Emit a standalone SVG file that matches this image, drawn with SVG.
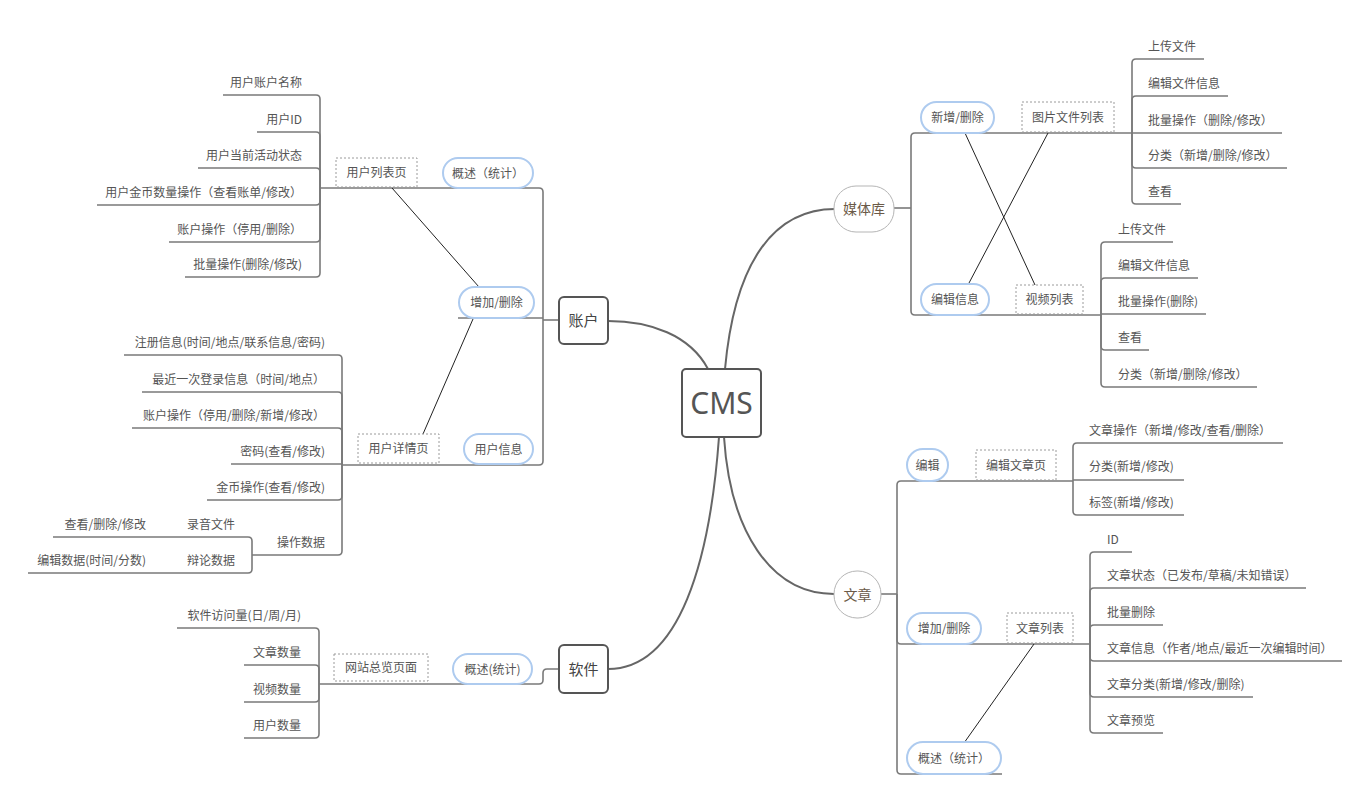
<svg xmlns="http://www.w3.org/2000/svg" width="1368" height="802" viewBox="0 0 1368 802">
<style>
.bg{fill:#fff}
.main{fill:none;stroke:#666;stroke-width:2}
.ln{fill:none;stroke:#7a7a7a;stroke-width:1.6}
.rel{fill:none;stroke:#222;stroke-width:1}
.t{font-family:"Noto Sans CJK SC","Microsoft YaHei",sans-serif;font-size:12px;fill:#555}
.e{text-anchor:end}
.c{text-anchor:middle}
.box{fill:#fff;stroke:#555;stroke-width:2}
.pill{fill:#fff;stroke:#aecbef;stroke-width:2}
.dash{fill:#fff;stroke:#9a9a9a;stroke-width:1;stroke-dasharray:2 2}
.bub{fill:#fff;stroke:#b5b5b5;stroke-width:1}
.bt{font-family:"Noto Sans CJK SC",sans-serif;font-size:15px;fill:#444;text-anchor:middle}
.brn{font-family:"Noto Sans CJK SC",sans-serif;font-size:14px;fill:#6b5a48;text-anchor:middle}
</style>
<rect class="bg" x="0" y="0" width="1368" height="802"/>
<g id="connectors">
<path class="main" d="M708,369 C690,335 650,321 608,321"/>
<path class="main" d="M725,369 C735,260 775,209 835,209"/>
<path class="main" d="M719,437 C710,560 680,669 608,669"/>
<path class="main" d="M724,437 C730,530 770,594 834,594"/>
<!-- 账户 -->
<path class="ln" d="M559,320 H543"/>
<path class="ln" d="M543,320 V192 Q543,188 539,188 H320"/>
<path class="ln" d="M543,318 H458"/>
<path class="ln" d="M543,320 V461 Q543,465 539,465 H342"/>
<path class="ln" d="M320,188 V99 Q320,95 316,95 H223"/>
<path class="ln" d="M320,188 V136 Q320,132 316,132 H257"/>
<path class="ln" d="M320,188 V172 Q320,168 316,168 H198"/>
<path class="ln" d="M320,188 V201 Q320,205 316,205 H97"/>
<path class="ln" d="M320,188 V238 Q320,242 316,242 H169"/>
<path class="ln" d="M320,188 V273 Q320,277 316,277 H185"/>
<path class="ln" d="M342,464 V359 Q342,355 338,355 H124"/>
<path class="ln" d="M342,464 V396 Q342,392 338,392 H142"/>
<path class="ln" d="M342,464 V432 Q342,428 338,428 H132"/>
<path class="ln" d="M342,464 H231"/>
<path class="ln" d="M342,464 V496 Q342,500 338,500 H207"/>
<path class="ln" d="M342,464 V551 Q342,555 338,555 H252"/>
<path class="ln" d="M252,555 V541 Q252,537 248,537 H53"/>
<path class="ln" d="M252,555 V569 Q252,573 248,573 H28"/>
<!-- 软件 -->
<path class="ln" d="M559,669 H547 Q543,669 543,673 V680 Q543,684 539,684 H319"/>
<path class="ln" d="M319,684 V632 Q319,628 315,628 H177"/>
<path class="ln" d="M319,684 V669 Q319,665 315,665 H244"/>
<path class="ln" d="M319,684 V698 Q319,702 315,702 H244"/>
<path class="ln" d="M319,684 V734 Q319,738 315,738 H244"/>
<!-- 媒体库 -->
<path class="ln" d="M894,208 H911"/>
<path class="ln" d="M911,208 V137 Q911,133 915,133 H1132"/>
<path class="ln" d="M911,208 V311 Q911,315 915,315 H1101"/>
<path class="ln" d="M1132,133 V63 Q1132,59 1136,59 H1204"/>
<path class="ln" d="M1132,133 V100 Q1132,96 1136,96 H1228"/>
<path class="ln" d="M1132,133 H1282"/>
<path class="ln" d="M1132,133 V164 Q1132,168 1136,168 H1287"/>
<path class="ln" d="M1132,133 V200 Q1132,204 1136,204 H1181"/>
<path class="ln" d="M1101,314 V246 Q1101,242 1105,242 H1173"/>
<path class="ln" d="M1101,314 V282 Q1101,278 1105,278 H1198"/>
<path class="ln" d="M1101,314 H1206"/>
<path class="ln" d="M1101,314 V346 Q1101,350 1105,350 H1149"/>
<path class="ln" d="M1101,314 V383 Q1101,387 1105,387 H1257"/>
<!-- 文章 -->
<path class="ln" d="M881,594 H897"/>
<path class="ln" d="M897,594 V485 Q897,481 901,481 H1073"/>
<path class="ln" d="M897,594 V640 Q897,644 901,644 H1090"/>
<path class="ln" d="M897,594 V770 Q897,774 901,774 H1002"/>
<path class="ln" d="M1073,480 V447 Q1073,443 1077,443 H1283"/>
<path class="ln" d="M1073,480 H1184"/>
<path class="ln" d="M1073,480 V511 Q1073,515 1077,515 H1184"/>
<path class="ln" d="M1090,644 V556 Q1090,552 1094,552 H1132"/>
<path class="ln" d="M1090,644 V592 Q1090,588 1094,588 H1306"/>
<path class="ln" d="M1090,644 V629 Q1090,625 1094,625 H1163"/>
<path class="ln" d="M1090,644 V657 Q1090,661 1094,661 H1342"/>
<path class="ln" d="M1090,644 V693 Q1090,697 1094,697 H1253"/>
<path class="ln" d="M1090,644 V729 Q1090,733 1094,733 H1163"/>
<!-- relationships -->
<path class="rel" d="M392,188 L479,287"/>
<path class="rel" d="M473,319 L423,434"/>
<path class="rel" d="M965,133 L1035,285"/>
<path class="rel" d="M1048,133 L969,283"/>
<path class="rel" d="M964,743 L1034,644"/>
</g>
<g id="cms"><rect class="box" x="682" y="369" width="79" height="68" rx="4"/><text x="721.5" y="414" style="font-family:'Noto Sans',sans-serif;font-size:30px;fill:#555;text-anchor:middle">CMS</text></g>
<g id="zhanghu"><rect class="box" x="559" y="297" width="49" height="47" rx="5"/><text class="bt" x="583.5" y="326">账户</text></g>
<g id="ruanjian"><rect class="box" x="559" y="645" width="49" height="48" rx="5"/><text class="bt" x="583.5" y="674.5">软件</text></g>
<g id="meitiku"><rect class="bub" x="834" y="186" width="60" height="46" rx="22"/><text class="brn" x="864" y="214">媒体库</text></g>
<g id="wenzhang"><rect class="bub" x="834" y="571" width="47" height="47" rx="23"/><text class="brn" x="857.5" y="599.5">文章</text></g>
<g id="zh-gaishu"><rect class="pill" x="443" y="158" width="90" height="30" rx="15"/><text class="t c" x="488" y="177.5">概述（统计）</text></g>
<g id="zh-liebiao"><rect class="dash" x="336" y="158" width="81" height="29"/><text class="t c" x="376.5" y="177">用户列表页</text></g>
<g id="zh-zengjia"><rect class="pill" x="459" y="287" width="75" height="31" rx="15.5"/><text class="t c" x="496.5" y="307">增加/删除</text></g>
<g id="zh-xinxi"><rect class="pill" x="464" y="434" width="69" height="30" rx="15"/><text class="t c" x="498.5" y="453.5">用户信息</text></g>
<g id="zh-xiangqing"><rect class="dash" x="358" y="434" width="81" height="29"/><text class="t c" x="398.5" y="453">用户详情页</text></g>
<g id="zh-list-leaves">
<text class="t e" x="302" y="87">用户账户名称</text>
<text class="t e" x="302" y="124">用户ID</text>
<text class="t e" x="302" y="160">用户当前活动状态</text>
<text class="t e" x="302" y="197">用户金币数量操作（查看账单/修改）</text>
<text class="t e" x="302" y="234">账户操作（停用/删除）</text>
<text class="t e" x="302" y="269">批量操作(删除/修改)</text>
</g>
<g id="zh-detail-leaves">
<text class="t e" x="325" y="347">注册信息(时间/地点/联系信息/密码)</text>
<text class="t e" x="325" y="384">最近一次登录信息（时间/地点）</text>
<text class="t e" x="325" y="420">账户操作（停用/删除/新增/修改）</text>
<text class="t e" x="325" y="456">密码(查看/修改)</text>
<text class="t e" x="325" y="492">金币操作(查看/修改)</text>
<text class="t e" x="325" y="547">操作数据</text>
<text class="t e" x="235" y="529">录音文件</text>
<text class="t e" x="235" y="565">辩论数据</text>
<text class="t e" x="146" y="529">查看/删除/修改</text>
<text class="t e" x="146" y="565">编辑数据(时间/分数)</text>
</g>
<g id="rj-gaishu"><rect class="pill" x="453" y="654" width="79" height="30" rx="15"/><text class="t c" x="492.5" y="673.5">概述(统计)</text></g>
<g id="rj-zonglan"><rect class="dash" x="334" y="654" width="94" height="27"/><text class="t c" x="381" y="672">网站总览页面</text></g>
<g id="rj-leaves">
<text class="t e" x="301" y="620">软件访问量(日/周/月)</text>
<text class="t e" x="301" y="657">文章数量</text>
<text class="t e" x="301" y="694">视频数量</text>
<text class="t e" x="301" y="730">用户数量</text>
</g>
<g id="mt-xinzeng"><rect class="pill" x="921" y="102" width="73" height="31" rx="15.5"/><text class="t c" x="957.5" y="122">新增/删除</text></g>
<g id="mt-tupian"><rect class="dash" x="1022" y="102" width="92" height="30"/><text class="t c" x="1068" y="121.5">图片文件列表</text></g>
<g id="mt-bianji"><rect class="pill" x="921" y="284" width="68" height="31" rx="15.5"/><text class="t c" x="955" y="304">编辑信息</text></g>
<g id="mt-shipin"><rect class="dash" x="1016" y="285" width="67" height="29"/><text class="t c" x="1049.5" y="304">视频列表</text></g>
<g id="mt-tupian-leaves">
<text class="t" x="1148" y="51">上传文件</text>
<text class="t" x="1148" y="88">编辑文件信息</text>
<text class="t" x="1148" y="125">批量操作（删除/修改）</text>
<text class="t" x="1148" y="160">分类（新增/删除/修改）</text>
<text class="t" x="1148" y="196">查看</text>
</g>
<g id="mt-shipin-leaves">
<text class="t" x="1118" y="234">上传文件</text>
<text class="t" x="1118" y="270">编辑文件信息</text>
<text class="t" x="1118" y="306">批量操作(删除)</text>
<text class="t" x="1118" y="342">查看</text>
<text class="t" x="1118" y="379">分类（新增/删除/修改）</text>
</g>
<g id="wz-bianji"><rect class="pill" x="907" y="449" width="41" height="32" rx="16"/><text class="t c" x="927.5" y="469.5">编辑</text></g>
<g id="wz-bianjiye"><rect class="dash" x="976" y="450" width="80" height="30"/><text class="t c" x="1016" y="469.5">编辑文章页</text></g>
<g id="wz-zengjia"><rect class="pill" x="907" y="613" width="74" height="31" rx="15.5"/><text class="t c" x="944" y="633">增加/删除</text></g>
<g id="wz-liebiao"><rect class="dash" x="1007" y="613" width="66" height="30"/><text class="t c" x="1040" y="632.5">文章列表</text></g>
<g id="wz-gaishu"><rect class="pill" x="907" y="742" width="94" height="32" rx="16"/><text class="t c" x="954" y="762.5">概述（统计）</text></g>
<g id="wz-bianjiye-leaves">
<text class="t" x="1089" y="435">文章操作（新增/修改/查看/删除）</text>
<text class="t" x="1089" y="471">分类(新增/修改)</text>
<text class="t" x="1089" y="507">标签(新增/修改)</text>
</g>
<g id="wz-liebiao-leaves">
<text class="t" x="1107" y="544">ID</text>
<text class="t" x="1107" y="580">文章状态（已发布/草稿/未知错误）</text>
<text class="t" x="1107" y="617">批量删除</text>
<text class="t" x="1107" y="653">文章信息（作者/地点/最近一次编辑时间）</text>
<text class="t" x="1107" y="689">文章分类(新增/修改/删除)</text>
<text class="t" x="1107" y="725">文章预览</text>
</g>
</svg>
